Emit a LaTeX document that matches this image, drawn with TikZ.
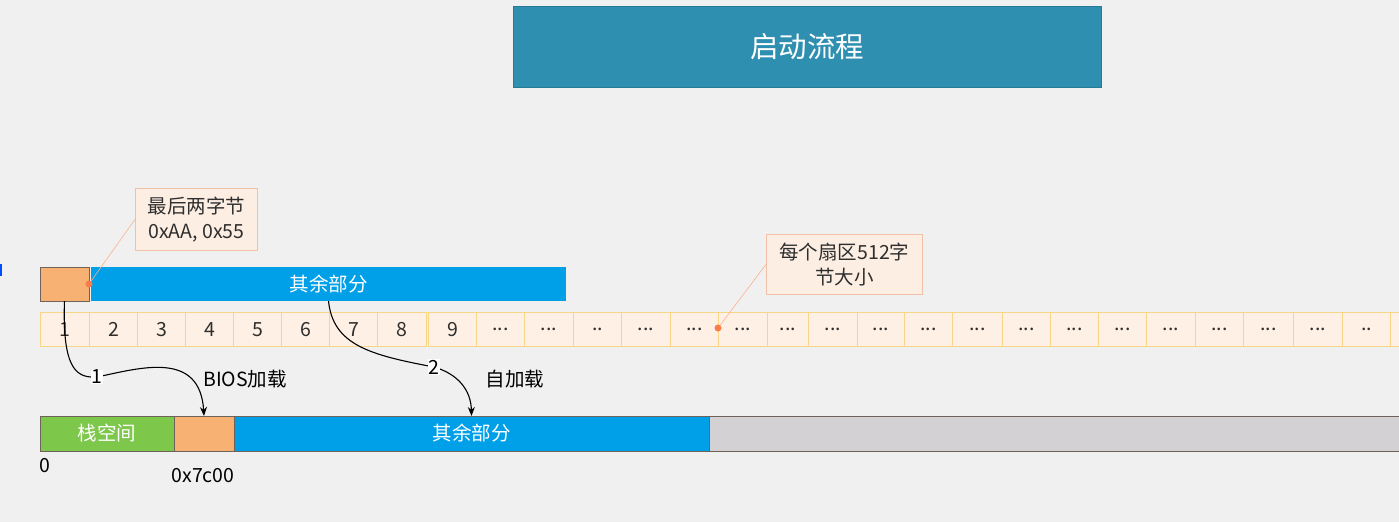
\documentclass[tikz,border=0pt]{standalone}
\usepackage{fontspec}
\setmainfont{Noto Sans CJK SC}
\usetikzlibrary{arrows.meta}
\definecolor{bgc}{HTML}{F0F0F0}
\definecolor{titlec}{HTML}{2E8FB0}
\definecolor{bluec}{HTML}{00A0E9}
\definecolor{orangec}{HTML}{F6B173}
\definecolor{greenc}{HTML}{7DC74A}
\definecolor{grayc}{HTML}{D3D1D4}
\definecolor{cellfill}{HTML}{FEF0E4}
\definecolor{cellline}{HTML}{F9D587}
\definecolor{callfill}{HTML}{FDEEE3}
\definecolor{callline}{HTML}{F2C0A8}
\definecolor{dotc}{HTML}{F97C4A}
\definecolor{txt}{HTML}{2E2E2E}
\definecolor{edgec}{HTML}{6E6259}
\newcommand{\tridots}{...}
\newcommand{\twodots}{..}
\tikzset{
  blk/.style={anchor=north west, inner sep=0pt, outer sep=0pt, text=white,
    font=\fontsize{19.5}{22}\selectfont},
  cellbox/.style={anchor=north west, draw=cellline, fill=cellfill, line width=1pt,
    inner sep=0pt, minimum height=34pt, text=txt, font=\fontsize{19.5}{22}\selectfont},
  callout/.style={anchor=north west, draw=callline, fill=callfill, line width=0.8pt,
    inner sep=0pt, align=center, text=txt, font=\fontsize{19.5}{25}\selectfont},
  pin/.style={circle, fill=dotc, inner sep=0pt, minimum size=7pt},
  pinline/.style={draw=dotc!60, line width=0.6pt},
  flow/.style={draw=black, line width=1.1pt, -{Stealth[length=9pt,width=7pt]}},
  steplab/.style={fill=white, inner sep=0.5pt, text=black, font=\fontsize{19.5}{22}\selectfont},
  plain/.style={text=black, inner sep=0pt, font=\fontsize{19.5}{22}\selectfont},
}
\begin{document}
\begin{tikzpicture}[x=1pt,y=-1pt]
\fill[bgc] (0,0) rectangle (1399,522);
\useasboundingbox (0,0) rectangle (1399,522);
\clip (0,0) rectangle (1399,522);
\fill[blue!70!cyan] (0,264) rectangle (2,276);
% title
\node[blk, fill=titlec, draw=titlec!85!black, line width=0.6pt, minimum width=588pt, minimum height=81pt,
  font=\fontsize{28.5}{32}\selectfont] (title) at (513,6) {启动流程};
% top bar
\node[blk, fill=orangec, draw=edgec, line width=0.8pt, minimum width=49pt, minimum height=34pt] (topor) at (40,267) {};
\node[blk, fill=bluec, minimum width=475pt, minimum height=34pt] (topbl) at (91,267) {其余部分};
% sector cells
\foreach \a/\b/\t [count=\i] in {40/89/1,89/137/2,137/185/3,185/233/4,233/281/5,281/329/6,329/377/7,377/426/8,
  428/476/9,476/524/\tridots,524/573/\tridots,573/621/\twodots,621/670/\tridots,670/718/\tridots,718/767/\tridots,
  767/808/\tridots,808/857/\tridots,857/904/\tridots,904/952/\tridots,952/1002/\tridots,1002/1050/\tridots,
  1050/1098/\tridots,1098/1146/\tridots,1146/1195/\tridots,1195/1243/\tridots,1243/1293/\tridots,
  1293/1342/\tridots,1342/1390/\twodots,1390/1440/{}}{
  \pgfmathsetmacro{\w}{\b-\a}
  \node[cellbox, minimum width=\w pt] (c\i) at (\a,312) {\t};
}
% bottom bar
\node[blk, fill=greenc, draw=edgec, line width=0.8pt, minimum width=134pt, minimum height=35pt] (stack) at (40,416) {栈空间};
\node[blk, fill=orangec, draw=edgec, line width=0.8pt, minimum width=60pt, minimum height=35pt] (boot) at (174,416) {};
\node[blk, fill=bluec, draw=edgec, line width=0.8pt, minimum width=475pt, minimum height=35pt] (rest) at (234,416) {其余部分};
\node[blk, fill=grayc, draw=edgec, line width=0.8pt, minimum width=700pt, minimum height=35pt] (free) at (709,416) {};
% address labels
\node[plain] (a0) at (45,466) {0};
\node[plain] (a7c) at (203,476) {0x7c00};
% callouts
\node[callout, minimum width=122pt, minimum height=62pt] (call1) at (135,188) {最后两字节\\0xAA, 0x55};
\node[callout, minimum width=156pt, minimum height=60pt] (call2) at (766,234) {每个扇区512字\\节大小};
\node[pin] (dot1) at (89,284) {};
\node[pin] (dot2) at (718,328) {};
\draw[pinline] (dot1) -- (call1.west);
\draw[pinline] (dot2) -- (call2.west);
% flows
\coordinate (k1) at (97,377);
\coordinate (k2) at (434,367);
\draw[flow] (topor.south) .. controls (62,372) and (78,378) .. (k1)
  .. controls (140,368) and (200,350) .. (boot.north);
\draw[flow] (topbl.south) .. controls (333,345) and (370,355) .. (k2)
  .. controls (458,374) and (471,390) .. (rest.north);
\node[steplab] (l1) at (k1) {1};
\node[steplab] (l2) at (k2) {2};
\node[plain] (bios) at (245,379) {BIOS加载};
\node[plain] (self) at (515,379) {自加载};
\end{tikzpicture}
\end{document}
